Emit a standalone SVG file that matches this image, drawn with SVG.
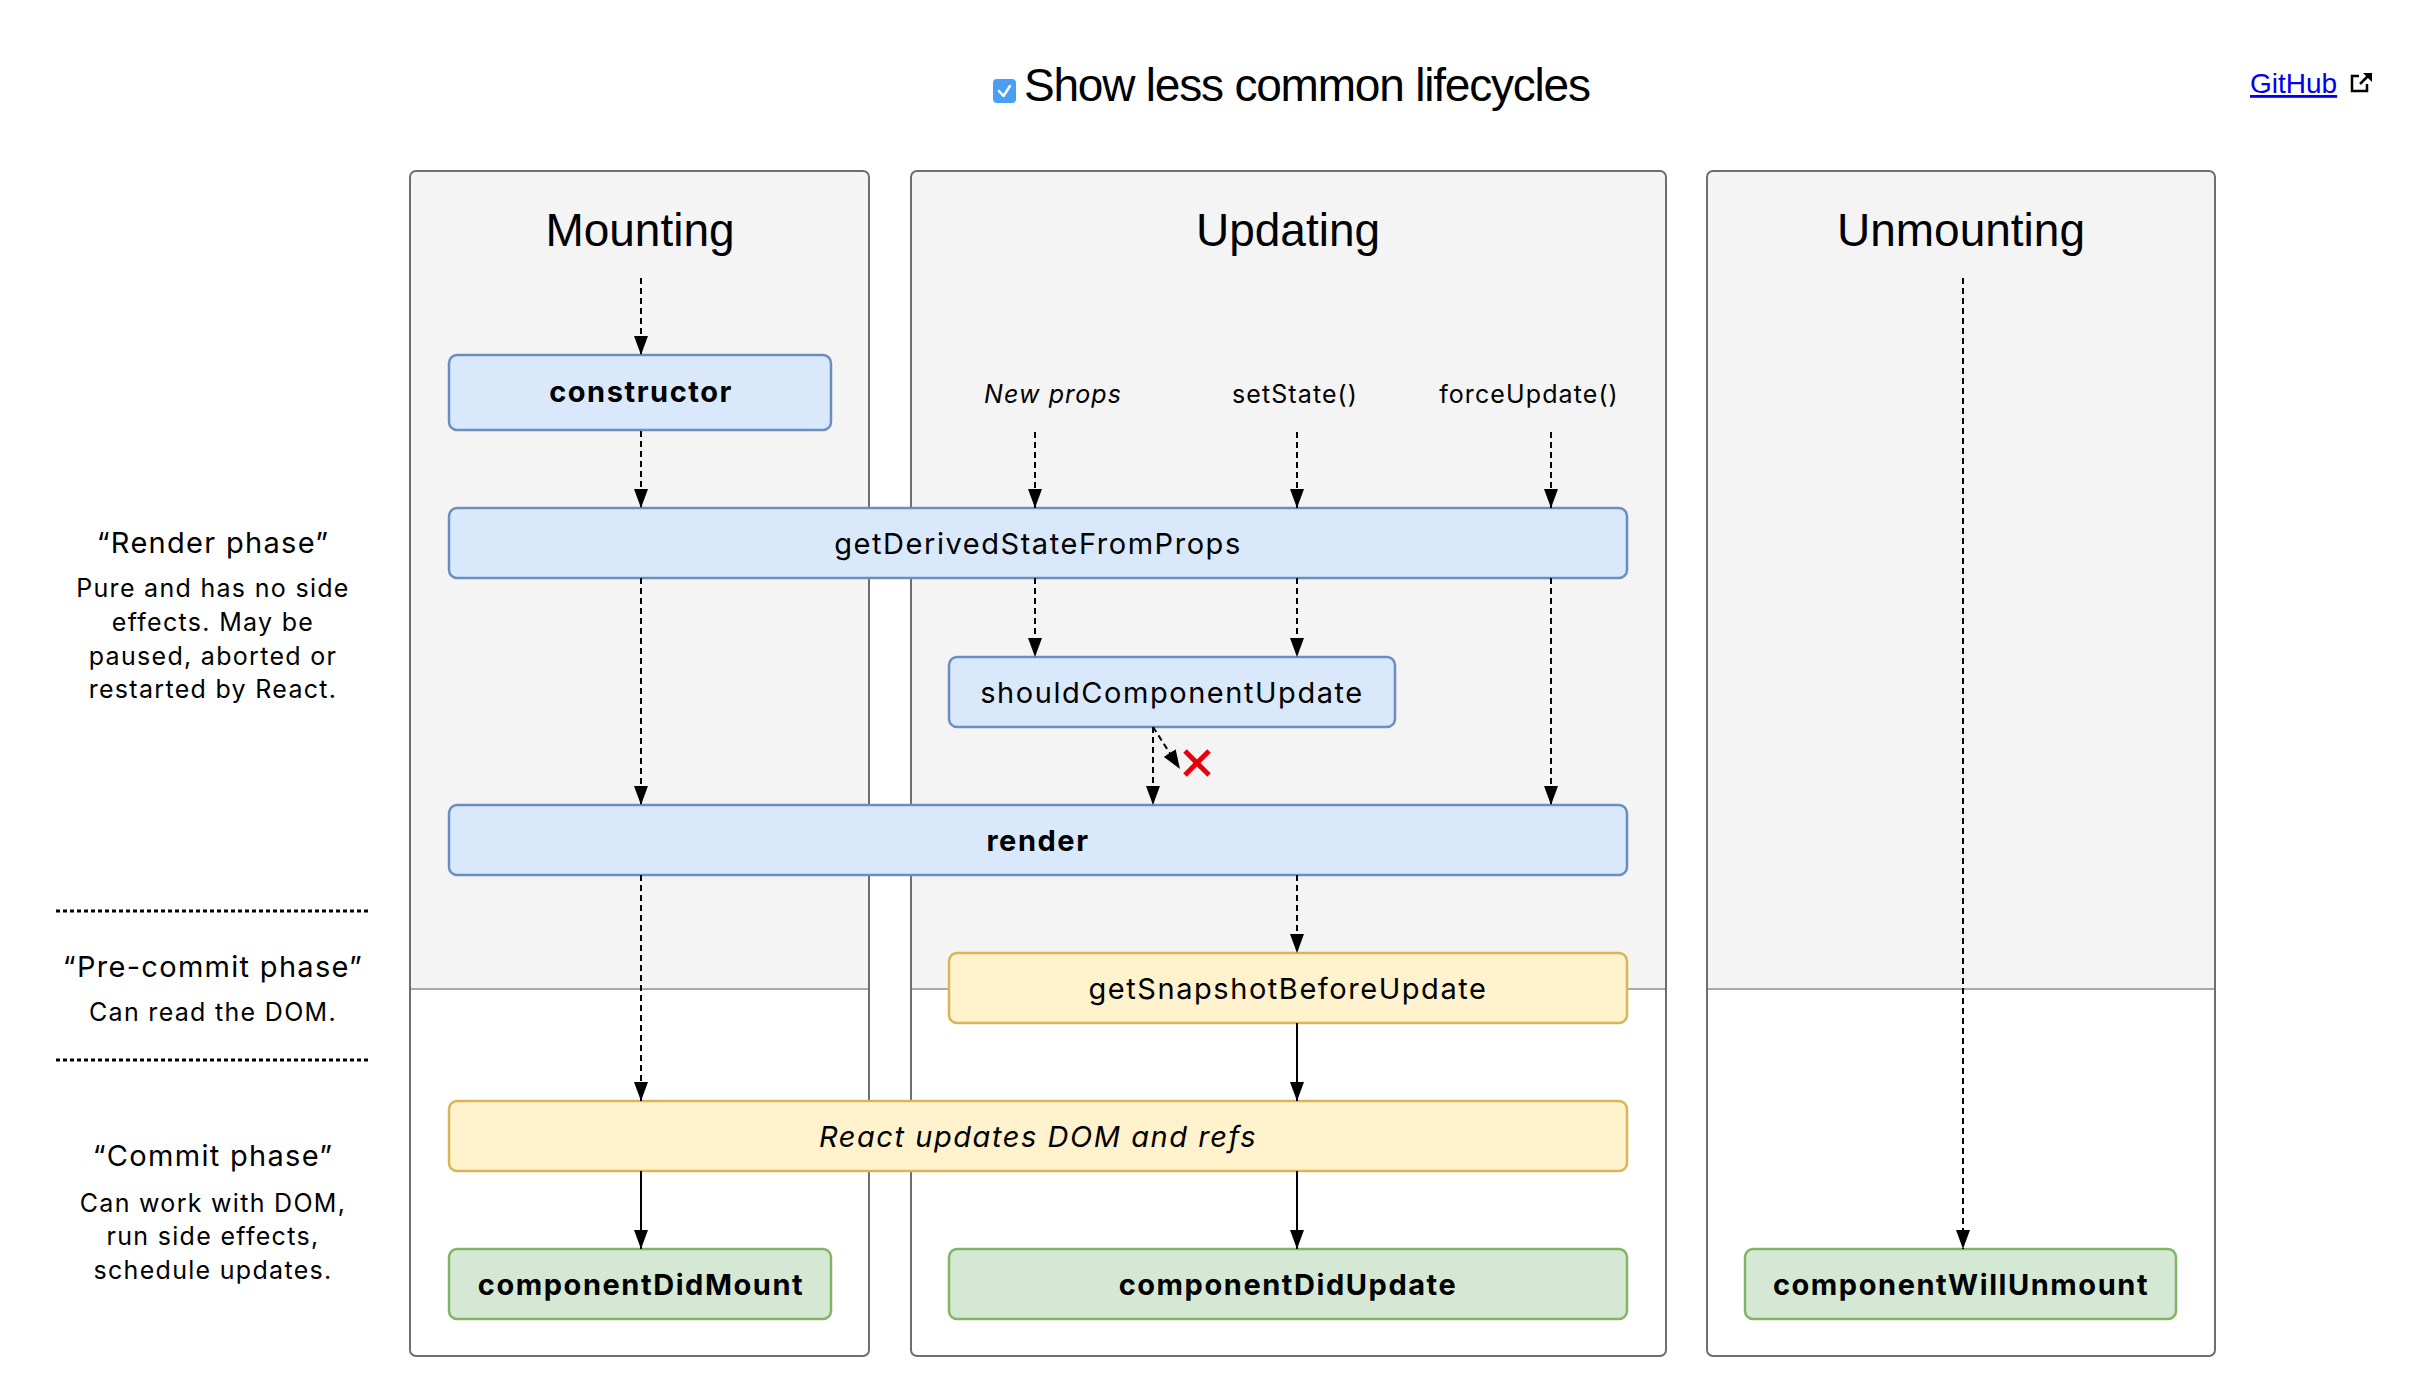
<svg xmlns="http://www.w3.org/2000/svg" width="2416" height="1400" viewBox="0 0 2416 1400">
<style>
text{font-family:"Liberation Sans",Arial,sans-serif;fill:#000}
.sf{font-family:Inter,"Liberation Sans",Arial,sans-serif}
.panel{fill:none;stroke:#6e6e6e;stroke-width:2}
.ptop{fill:#f4f4f4}
.split{stroke:#a8a8a8;stroke-width:2}
.blue{fill:#dae8fc;stroke:#6c8ebf;stroke-width:2.5}
.yellow{fill:#fff2cc;stroke:#d6b656;stroke-width:2.5}
.green{fill:#d5e8d4;stroke:#82b366;stroke-width:2.5}
.lbl{font-size:29px;letter-spacing:1.55px;text-anchor:middle}
.b{font-weight:bold}
.i{font-style:italic}
.head{font-size:46px;text-anchor:middle}
.trig{font-size:25px;letter-spacing:1.1px;text-anchor:middle}
.sideh{font-size:29px;letter-spacing:1.3px;text-anchor:middle}
.sideb{font-size:25px;letter-spacing:1.3px;text-anchor:middle}
.dash{stroke:#000;stroke-width:2;stroke-dasharray:6 4;fill:none;marker-end:url(#arr)}
.solid{stroke:#000;stroke-width:2;fill:none;marker-end:url(#arr)}
.dots{stroke:#000;stroke-width:3;stroke-dasharray:4 3}
</style>
<defs>
<marker id="arr" viewBox="0 0 19 14" refX="19" refY="7" markerWidth="19" markerHeight="14" orient="auto" markerUnits="userSpaceOnUse">
<path d="M0,0 L19,7 L0,14 Z" fill="#000"/>
</marker>
</defs>
<rect width="2416" height="1400" fill="#fff"/>

<g id="header">
<rect x="993" y="79" width="23" height="24" rx="4" fill="#4a9ff5"/>
<path d="M999,91 L1003.5,96 L1010,86" fill="none" stroke="#fff" stroke-width="2.5" stroke-linecap="round" stroke-linejoin="round"/>
<text x="1024" y="101" font-size="46" letter-spacing="-1.2">Show less common lifecycles</text>
<text x="2250" y="93" font-size="28" style="fill:#0000ee" text-decoration="underline">GitHub</text>
<path d="M2367,84 V91 H2352 V76 H2359" fill="none" stroke="#000" stroke-width="2.5"/>
<path d="M2360,84 L2369,75" stroke="#000" stroke-width="2.5"/>
<path d="M2363,73 H2372 V82 Z" fill="#000"/>
</g>

<g id="panel-mounting">
<path class="ptop" d="M410,989 V177 Q410,171 416,171 H863 Q869,171 869,177 V989 Z"/>
<line class="split" x1="410" y1="989" x2="869" y2="989"/>
<rect class="panel" x="410" y="171" width="459" height="1185" rx="6"/>
<text class="head" x="640" y="246">Mounting</text>
</g>
<g id="panel-updating">
<path class="ptop" d="M911,989 V177 Q911,171 917,171 H1660 Q1666,171 1666,177 V989 Z"/>
<line class="split" x1="911" y1="989" x2="1666" y2="989"/>
<rect class="panel" x="911" y="171" width="755" height="1185" rx="6"/>
<text class="head" x="1288" y="246">Updating</text>
</g>
<g id="panel-unmounting">
<path class="ptop" d="M1707,989 V177 Q1707,171 1713,171 H2209 Q2215,171 2215,177 V989 Z"/>
<line class="split" x1="1707" y1="989" x2="2215" y2="989"/>
<rect class="panel" x="1707" y="171" width="508" height="1185" rx="6"/>
<text class="head" x="1961" y="246">Unmounting</text>
</g>

<g id="phases">
<text class="sf sideh" x="213" y="553">“Render phase”</text>
<text class="sf sideb" x="213" y="597">Pure and has no side</text>
<text class="sf sideb" x="213" y="631">effects. May be</text>
<text class="sf sideb" x="213" y="665">paused, aborted or</text>
<text class="sf sideb" x="213" y="698">restarted by React.</text>
<line class="dots" x1="56" y1="911" x2="370" y2="911"/>
<text class="sf sideh" x="213" y="977">“Pre-commit phase”</text>
<text class="sf sideb" x="213" y="1021">Can read the DOM.</text>
<line class="dots" x1="56" y1="1060" x2="370" y2="1060"/>
<text class="sf sideh" x="213" y="1166">“Commit phase”</text>
<text class="sf sideb" x="213" y="1212">Can work with DOM,</text>
<text class="sf sideb" x="213" y="1245">run side effects,</text>
<text class="sf sideb" x="213" y="1279">schedule updates.</text>
</g>

<g id="triggers">
<text class="sf trig i" x="1053" y="403">New props</text>
<text class="sf trig" x="1295" y="403">setState()</text>
<text class="sf trig" x="1529" y="403">forceUpdate()</text>
</g>

<g id="constructor"><rect class="blue" x="449" y="355" width="382" height="75" rx="8"/><text class="sf lbl b" x="641" y="402">constructor</text></g>
<g id="getDerivedStateFromProps"><rect class="blue" x="449" y="508" width="1178" height="70" rx="8"/><text class="sf lbl" x="1038" y="554">getDerivedStateFromProps</text></g>
<g id="shouldComponentUpdate"><rect class="blue" x="949" y="657" width="446" height="70" rx="8"/><text class="sf lbl" x="1172" y="703">shouldComponentUpdate</text></g>
<g id="render"><rect class="blue" x="449" y="805" width="1178" height="70" rx="8"/><text class="sf lbl b" x="1038" y="851">render</text></g>
<g id="getSnapshotBeforeUpdate"><rect class="yellow" x="949" y="953" width="678" height="70" rx="8"/><text class="sf lbl" x="1288" y="999">getSnapshotBeforeUpdate</text></g>
<g id="reactUpdatesDOM"><rect class="yellow" x="449" y="1101" width="1178" height="70" rx="8"/><text class="sf lbl i" x="1038" y="1147">React updates DOM and refs</text></g>
<g id="componentDidMount"><rect class="green" x="449" y="1249" width="382" height="70" rx="8"/><text class="sf lbl b" x="641" y="1295">componentDidMount</text></g>
<g id="componentDidUpdate"><rect class="green" x="949" y="1249" width="678" height="70" rx="8"/><text class="sf lbl b" x="1288" y="1295">componentDidUpdate</text></g>
<g id="componentWillUnmount"><rect class="green" x="1745" y="1249" width="431" height="70" rx="8"/><text class="sf lbl b" x="1961" y="1295">componentWillUnmount</text></g>

<g id="connectors">
<path class="dash" d="M641,278 V355"/>
<path class="dash" d="M641,431 V508"/>
<path class="dash" d="M641,578 V805"/>
<path class="dash" d="M641,875 V1101"/>
<path class="solid" d="M641,1171 V1249"/>
<path class="dash" d="M1035,432 V508"/>
<path class="dash" d="M1297,432 V508"/>
<path class="dash" d="M1551,432 V508"/>
<path class="dash" d="M1035,578 V657"/>
<path class="dash" d="M1297,578 V657"/>
<path class="dash" d="M1551,578 V805"/>
<path class="dash" d="M1153,727 V805"/>
<path class="dash" d="M1153,727 L1180,769"/>
<path class="dash" d="M1297,875 V953"/>
<path class="solid" d="M1297,1023 V1101"/>
<path class="solid" d="M1297,1171 V1249"/>
<path class="dash" d="M1963,278 V1249"/>
</g>
<g id="cancel-mark" stroke="#e8000b" stroke-width="5">
<line x1="1185" y1="751" x2="1209" y2="775"/>
<line x1="1209" y1="751" x2="1185" y2="775"/>
</g>
</svg>
